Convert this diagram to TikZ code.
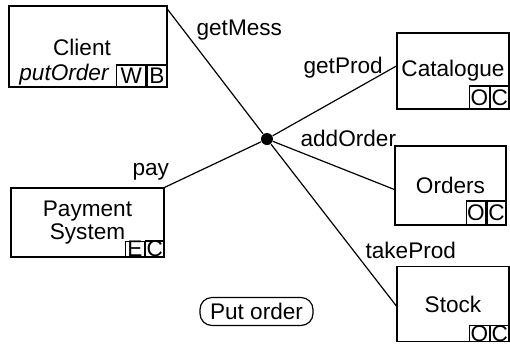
\documentclass[tikz,border=0pt]{standalone}
\usepackage{fontspec}
\setmainfont{Liberation Sans}
\usepackage{tikz}
\usetikzlibrary{positioning}

\begin{document}
\begin{tikzpicture}[x=0.5pt, y=-0.5pt, line width=0.6pt,
                    every node/.style={font=\fontsize{11.3}{11.5}\selectfont},
                    comp/.style={draw, rectangle, inner sep=0pt, align=center},
                    cell/.style={draw, rectangle, inner xsep=0.5pt, inner ysep=0pt, minimum width=#1},
                    cell/.default=9.5pt,
                    lbl/.style={anchor=base west, inner sep=0pt}]
                      \useasboundingbox (0,0) rectangle (510,345);

                      \node[comp, minimum width=79pt, minimum height=40.5pt] (client) at (88,46.5) {};
                      \node[anchor=base, inner sep=0pt] (clientname) at (82,55) {Client};
                      \node[anchor=base, inner sep=0pt] (clientop) at (64,80) {\itshape putOrder};
                      \node[cell=10pt, minimum height=11pt, anchor=south east] (clientb) at (client.south east) {B};
                      \node[cell=14.5pt, minimum height=11pt, left=0pt of clientb] (clientw) {W};

                      \node[comp, minimum width=76.5pt, minimum height=34.5pt] (payment) at (87.5,222.5) {Payment\\System};
                      \node[cell=9pt, minimum height=7.5pt, anchor=south east] (paymentc) at (payment.south east) {C};
                      \node[cell, minimum height=7.5pt, left=0pt of paymentc] (paymente) {E};

                      \node[comp, minimum width=56pt, minimum height=38pt] (catalogue) at (453,71) {Catalogue};
                      \node[cell=8.5pt, minimum height=11.5pt, anchor=south east] (cataloguec) at (catalogue.south east) {C};
                      \node[cell=10pt, minimum height=11.5pt, left=0pt of cataloguec] (catalogueo) {O};

                      \node[comp, minimum width=55.5pt, minimum height=39.5pt] (orders) at (450.5,185.5) {Orders};
                      \node[cell, minimum height=12pt, anchor=south east] (ordersc) at (orders.south east) {C};
                      \node[cell, minimum height=12pt, left=0pt of ordersc] (orderso) {O};

                      \node[comp, minimum width=56pt, minimum height=37.5pt] (stock) at (453,304) {Stock};
                      \node[cell=8.5pt, minimum height=7.5pt, anchor=south east] (stockc) at (stock.south east) {C};
                      \node[cell=10pt, minimum height=7.5pt, left=0pt of stockc] (stocko) {O};

                      \node[circle, fill, inner sep=0pt, minimum size=6pt] (hub) at (267,139) {};

                      \draw ([yshift=-2pt]client.north east) -- (hub);
                      \draw (hub) -- ([yshift=-1pt]stock.west);
                      \draw (payment.north east) -- (hub);
                      \draw (hub) -- ([yshift=2.5pt]catalogue.west);
                      \draw (hub) -- ([yshift=-2pt]orders.west);

                      \node[lbl] (getmess) at (196,35) {getMess};
                      \node[lbl] (getprod) at (303,73) {getProd};
                      \node[lbl] (addorder) at (300,146) {addOrder};
                      \node[lbl] (paylabel) at (132,175) {pay};
                      \node[lbl] (takeprod) at (365,258) {takeProd};

                      \node[draw, rounded corners=6pt, minimum width=56.5pt, minimum height=14pt, inner sep=0pt] (putorder) at (256.5,311.5) {Put order};

                    \end{tikzpicture}
\end{document}
